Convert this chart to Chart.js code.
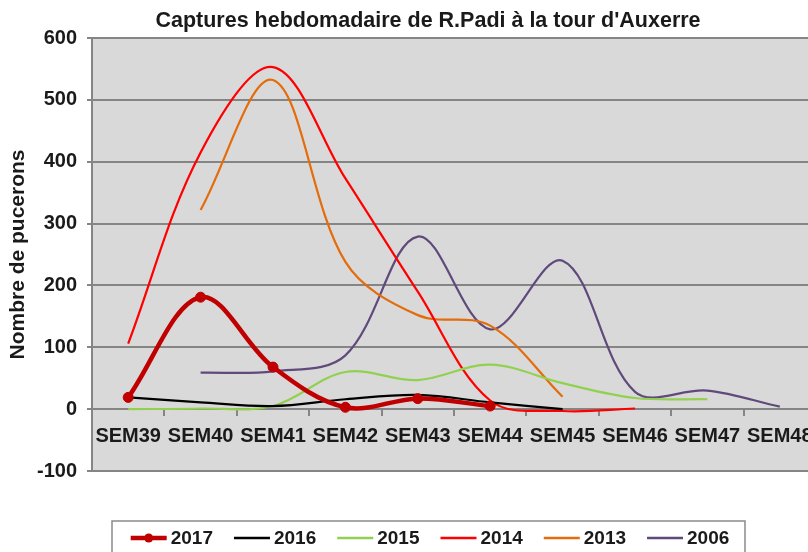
<!DOCTYPE html>
<html lang="fr">
<head>
<meta charset="utf-8">
<title>Captures hebdomadaire de R.Padi</title>
<script src="https://cdn.jsdelivr.net/npm/chart.js@4/dist/chart.umd.min.js"></script>
<style>
  html, body { margin: 0; padding: 0; background: #fff; overflow: hidden; }
  #wrap { position: absolute; left: 0; top: 0; width: 830px; height: 560px; }
</style>
</head>
<body>
<div id="wrap"><canvas id="chart"></canvas></div>
<script>
// Data
const TITLE = "Captures hebdomadaire de R.Padi à la tour d'Auxerre";
const Y_TITLE = 'Nombre de pucerons';
const weeks = ['SEM39', 'SEM40', 'SEM41', 'SEM42', 'SEM43', 'SEM44', 'SEM45', 'SEM46', 'SEM47', 'SEM48'];
const y2017 = [19, 181, 68, 3, 17, 5, null, null, null, null];
const y2016 = [19, 11, 5, 16, 23, 11, 0, null, null, null];
const y2015 = [0, 1, 5, 60, 47, 72, 42, 18, 16, null];
const y2014 = [106, 415, 553, 373, 190, 14, -3, 1, null, null];
const y2013 = [null, 322, 532, 238, 152, 135, 20, null, null, null];
const y2006 = [null, 59, 61, 87, 279, 129, 240, 28, 30, 4];
const yTicks = [-100, 0, 100, 200, 300, 400, 500, 600];

const FONT = "'Liberation Sans', Arial, sans-serif";
const GRID = '#858585';
const TEXT = '#1a1a1a';

function series(label, data, color, width) {
  return {
    label: label,
    data: data,
    borderColor: color,
    backgroundColor: color,
    borderWidth: width,
    tension: 0.35,
    pointRadius: 0,
    fill: false
  };
}

const datasets = [
  Object.assign(series('2017', y2017, '#c00000', 4.5), { pointRadius: 5, pointBorderWidth: 1 }),
  series('2016', y2016, '#000000', 2.2),
  series('2015', y2015, '#92d050', 2.2),
  series('2014', y2014, '#ff0000', 2.2),
  series('2013', y2013, '#e46c0a', 2.2),
  series('2006', y2006, '#604a7b', 2.2)
];

// grey plot background
const plotBg = {
  id: 'plotBg',
  beforeDraw(chart) {
    const { ctx, chartArea: a } = chart;
    ctx.save();
    ctx.fillStyle = '#d9d9d9';
    ctx.fillRect(a.left, a.top, a.right - a.left, a.bottom - a.top);
    ctx.restore();
  }
};

// title + framed legend, placed like the original sheet
const decor = {
  id: 'decor',
  afterDraw(chart) {
    const ctx = chart.ctx;
    ctx.save();
    ctx.fillStyle = TEXT;
    ctx.font = 'bold 21.5px ' + FONT;
    ctx.textAlign = 'center';
    ctx.textBaseline = 'middle';
    ctx.fillText(TITLE, 428, 21);

    // legend frame
    ctx.strokeStyle = '#8a8a8a';
    ctx.lineWidth = 1.5;
    ctx.strokeRect(112, 521, 633, 60);

    ctx.font = 'bold 19px ' + FONT;
    ctx.textAlign = 'left';
    const lineLen = 36, gap = 4, space = 21, cy = 538;
    const sets = chart.data.datasets;
    let total = 0;
    sets.forEach(ds => { total += lineLen + gap + ctx.measureText(ds.label).width + space; });
    total -= space;
    let x = 430 - total / 2;
    sets.forEach((ds, i) => {
      ctx.strokeStyle = ds.borderColor;
      ctx.lineWidth = i === 0 ? 4.5 : 2.5;
      ctx.beginPath();
      ctx.moveTo(x, cy);
      ctx.lineTo(x + lineLen, cy);
      ctx.stroke();
      if (i === 0) {
        ctx.fillStyle = ds.borderColor;
        ctx.beginPath();
        ctx.arc(x + lineLen / 2, cy, 4.5, 0, Math.PI * 2);
        ctx.fill();
      }
      ctx.fillStyle = TEXT;
      ctx.fillText(ds.label, x + lineLen + gap, cy + 1);
      x += lineLen + gap + ctx.measureText(ds.label).width + space;
    });
    ctx.restore();
  }
};

new Chart(document.getElementById('chart'), {
  type: 'line',
  data: { labels: weeks, datasets: datasets },
  options: {
    responsive: true,
    maintainAspectRatio: false,
    animation: false,
    layout: { padding: { top: 38, right: 14, bottom: 89, left: 0 } },
    plugins: {
      legend: { display: false },
      title: { display: false },
      tooltip: { enabled: false }
    },
    scales: {
      x: {
        type: 'category',
        offset: true,
        position: { y: 0 },
        grid: { drawOnChartArea: false, drawTicks: true, tickLength: 6, color: GRID, lineWidth: 2, offset: true },
        border: { display: true, color: GRID, width: 2 },
        ticks: {
          font: { family: FONT, size: 20, weight: 'bold' },
          color: TEXT,
          padding: 9,
          maxRotation: 0,
          autoSkip: false
        }
      },
      y: {
        min: -100,
        max: 600,
        afterFit(scale) { scale.width = 92; },
        afterBuildTicks(scale) { scale.ticks = yTicks.map(v => ({ value: v })); },
        grid: { color: GRID, lineWidth: 2, tickLength: 5 },
        border: { display: true, color: GRID, width: 2 },
        ticks: {
          font: { family: FONT, size: 20, weight: 'bold' },
          color: TEXT,
          padding: 10
        },
        title: {
          display: true,
          text: Y_TITLE,
          font: { family: FONT, size: 21, weight: 'bold' },
          color: TEXT,
          padding: { top: 6, bottom: 0 }
        }
      }
    }
  },
  plugins: [plotBg, decor]
});
</script>
</body>
</html>
